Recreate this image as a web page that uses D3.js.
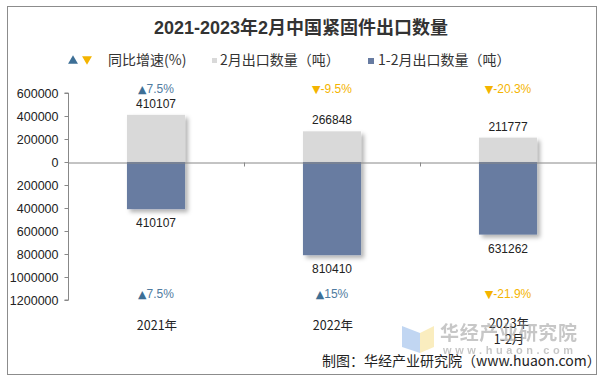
<!DOCTYPE html>
<html><head><meta charset="utf-8">
<script src="https://cdn.jsdelivr.net/npm/d3@7/dist/d3.min.js"></script>
<style>
html,body{margin:0;padding:0;background:#fff;}
svg{display:block;}
text{font-family:"Liberation Sans","Noto Sans CJK SC",Arial,sans-serif;}
.cjk{font-family:"Noto Sans CJK SC","Liberation Sans",sans-serif;}
</style></head>
<body>
<svg id="chart" width="603" height="381"></svg>
<script>
const categories = ["2021年", "2022年", "2023年\n1-2月"];
const febValues = [410107, 266848, 211777];
const cumValues = [410107, 810410, 631262];
const febGrowth = [7.5, -9.5, -20.3];
const cumGrowth = [7.5, 15, -21.9];
const tickValues = [600000, 400000, 200000, 0, -200000, -400000, -600000, -800000, -1000000, -1200000];

const upColor = "#3d6f96", upText = "#4f7ba0", downColor = "#f4b400";
const febColor = "#d9d9d9", cumColor = "#677ba1";

const svg = d3.select("#chart");
const defs = svg.append("defs");
const f = defs.append("filter").attr("id","sh").attr("x","-20%").attr("y","-20%").attr("width","150%").attr("height","150%");
f.append("feDropShadow").attr("dx",3).attr("dy",3).attr("stdDeviation",2).attr("flood-color","#000").attr("flood-opacity",0.3);

// border
svg.append("rect").attr("x",7.5).attr("y",6.5).attr("width",589).attr("height",368)
  .attr("fill","#fff").attr("stroke","#8c8c8c").attr("stroke-width",1);

// title
svg.append("text").attr("x",301).attr("y",34).attr("text-anchor","middle")
  .attr("font-family","'Liberation Serif','Noto Serif CJK SC','Noto Sans CJK SC',serif")
  .attr("font-weight","bold").attr("font-size",18).attr("fill","#333")
  .text("2021-2023年2月中国紧固件出口数量");

// legend
const lg = svg.append("g").attr("class","cjk");
lg.append("path").attr("d", d3.symbol(d3.symbolTriangle, 42)()).attr("transform","translate(73,61)").attr("fill",upColor);
lg.append("path").attr("d", d3.symbol(d3.symbolTriangle, 42)()).attr("transform","translate(87,59) rotate(180)").attr("fill",downColor);
lg.append("text").attr("x",108).attr("y",65).attr("font-size",14).attr("fill","#333").attr("class","cjk").text("同比增速(%)");
lg.append("rect").attr("x",212).attr("y",58).attr("width",5).attr("height",5).attr("fill",febColor);
lg.append("text").attr("x",220).attr("y",65).attr("font-size",14).attr("fill","#333").attr("class","cjk").text("2月出口数量（吨）");
lg.append("rect").attr("x",368).attr("y",58).attr("width",6).attr("height",6).attr("fill",cumColor);
lg.append("text").attr("x",378).attr("y",65).attr("font-size",14).attr("fill","#333").attr("class","cjk").text("1-2月出口数量（吨）");

// scales
const y = d3.scaleLinear().domain([600000, -1200000]).range([93, 300]);
const x = d3.scaleBand().domain(categories).range([68, 596]).padding(0);
const bw = x.bandwidth() * 0.33;

// y axis
const yAxis = d3.axisLeft(y).tickValues(tickValues).tickSize(4).tickPadding(6)
  .tickFormat(d => String(Math.abs(d)));
const ya = svg.append("g").attr("transform","translate(68.5,0)").call(yAxis);
ya.select(".domain").attr("stroke","#888").attr("d","M-4,"+y(600000)+"H0V"+y(-1200000)+"H-4");
ya.selectAll(".tick line").attr("stroke","#888");
ya.selectAll(".tick text").attr("font-size",12.5).attr("fill","#222").attr("font-family","'Liberation Sans',Arial,sans-serif");

// bars
const g = svg.append("g");
categories.forEach((c, i) => {
  const cx = x(c) + x.bandwidth()/2;
  g.append("rect").attr("x", cx - bw/2).attr("y", y(febValues[i])).attr("width", bw)
    .attr("height", y(0) - y(febValues[i])).attr("fill", febColor).attr("filter","url(#sh)");
  g.append("rect").attr("x", cx - bw/2).attr("y", y(0)).attr("width", bw)
    .attr("height", y(-cumValues[i]) - y(0)).attr("fill", cumColor).attr("filter","url(#sh)");
});

// zero line with category ticks
const xa = svg.append("g").attr("transform","translate(0,"+(Math.round(y(0))+0.5)+")")
  .call(d3.axisBottom(x).tickSize(0).tickFormat(""));
xa.select(".domain").attr("stroke","#888");
categories.slice(1).forEach(c => {
  xa.append("line").attr("x1", Math.round(x(c))+0.5).attr("x2", Math.round(x(c))+0.5)
    .attr("y1",0).attr("y2",4).attr("stroke","#888");
});

// labels
const lab = svg.append("g");
function pctLabel(cx, yy, v) {
  const up = v >= 0;
  const t = lab.append("text").attr("x", cx).attr("y", yy).attr("text-anchor","middle")
    .attr("font-size",12).attr("fill", up ? upText : downColor);
  t.append("tspan").attr("fill", up ? upColor : downColor)
    .attr("font-family","'DejaVu Sans',sans-serif").attr("font-size",11).text(up ? "▲" : "▼");
  t.append("tspan").text(v + "%");
}
categories.forEach((c, i) => {
  const cx = x(c) + x.bandwidth()/2;
  pctLabel(cx, 93, febGrowth[i]);
  pctLabel(cx, 298, cumGrowth[i]);
  lab.append("text").attr("x", cx).attr("y", y(febValues[i]) - 7).attr("text-anchor","middle")
    .attr("font-size",12).attr("fill","#222").text(febValues[i]);
  lab.append("text").attr("x", cx).attr("y", y(-cumValues[i]) + 18).attr("text-anchor","middle")
    .attr("font-size",12).attr("fill","#222").text(cumValues[i]);
  const lines = c.split("\n");
  lines.forEach((ln, k) => {
    lab.append("text").attr("x", cx + 1).attr("y", 330 + k*16 - (lines.length>1 ? 2 : 0)).attr("text-anchor","middle")
      .attr("font-size",12.5).attr("fill","#222").attr("class","cjk").text(ln);
  });
});

// watermark
const wm = svg.append("g").attr("opacity",0.55);
wm.append("path").attr("d","M402,326 L420,333 L420,353 L402,347 Z").attr("fill","#8fb6e8");
wm.append("path").attr("d","M420,333 L434,326 L434,347 L420,353 Z").attr("fill","#f6df8c");
wm.append("text").attr("x",440).attr("y",340).attr("font-size",19).attr("font-weight","bold")
  .attr("fill","#9a9a9a").attr("class","cjk").attr("textLength",137).text("华经产业研究院");
wm.append("text").attr("x",443).attr("y",354).attr("font-size",11).attr("font-weight","bold")
  .attr("fill","#9a9a9a").attr("textLength",130).text("www.huaon.com");

// source
svg.append("text").attr("x",322).attr("y",366).attr("font-size",14).attr("fill","#222")
  .attr("class","cjk").text("制图：华经产业研究院（www.huaon.com）");
</script>
</body></html>
